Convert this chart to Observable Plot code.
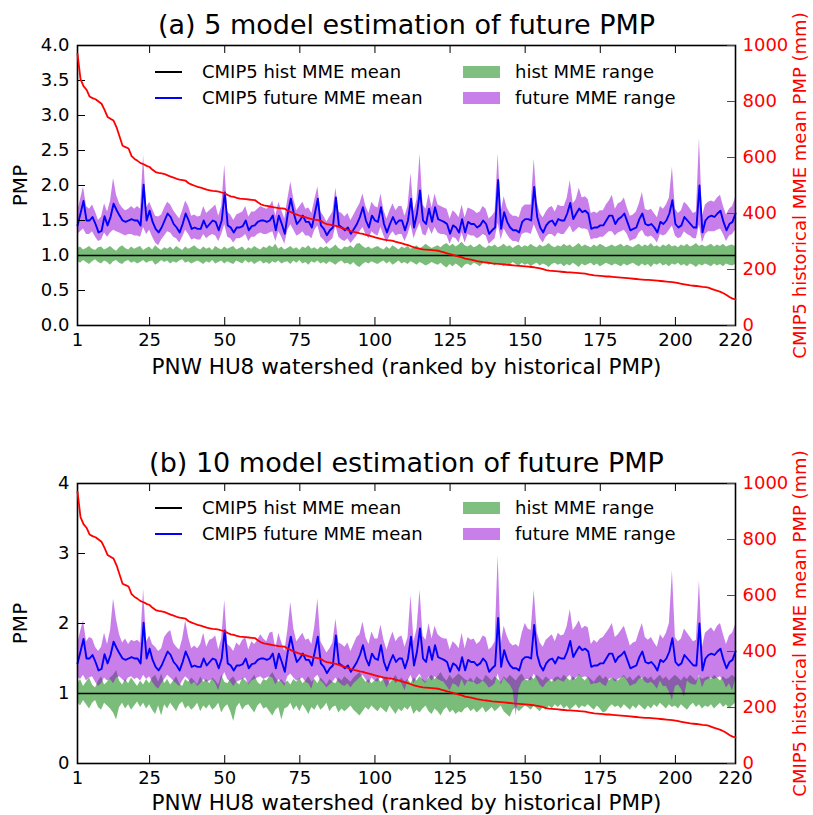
<!DOCTYPE html>
<html><head><meta charset="utf-8">
<script src="https://cdn.jsdelivr.net/npm/d3@7"></script>
<script src="https://cdn.jsdelivr.net/npm/@observablehq/plot@0.6"></script>
<style>
body{margin:0;background:#fff;}
#page{position:relative;width:813px;height:815px;font-family:"DejaVu Sans",sans-serif;overflow:hidden;background:#fff;}
.layer{position:absolute;left:0;}
.lg{position:absolute;font-size:18px;line-height:18px;color:#000;white-space:nowrap;}
.sw{position:absolute;}
</style></head><body><div id="page"></div>
<script>
// ---------- data ----------
const watershed = d3.range(1, 221);
const xTicks = [1, 25, 50, 75, 100, 125, 150, 175, 200, 220];
const pmpTicksA = [0, 0.5, 1, 1.5, 2, 2.5, 3, 3.5, 4];
const pmpTicksB = [0, 1, 2, 3, 4];
const mmTicks = [0, 200, 400, 600, 800, 1000];
const histMean = [1.0];
const titles = ["(a) 5 model estimation of future PMP", "(b) 10 model estimation of future PMP"];
const xLabel = "PNW HU8 watershed (ranked by historical PMP)";
const yLabel = "PMP";
const y2Label = "CMIP5 historical MME mean PMP (mm)";
const legendLabels = ["CMIP5 hist MME mean", "CMIP5 future MME mean", "hist MME range", "future MME range"];

const histPMP = [970,880,855,842,818,812,808,800,792,770,
745,738,732,708,675,642,637,632,605,595,
588,580,576,570,566,556,548,545,543,541,
536,532,528,524,521,519,517,508,503,499,
495,492,489,485,483,481,480,478,475,472,
466,461,459,456,453,452,451,450,449,448,
440,433,429,427,425,423,421,419,418,417,
410,405,400,396,392,389,386,383,380,378,
376,374,366,362,360,358,356,352,348,345,
341,337,334,332,329,327,324,321,318,315,
312,309,307,305,304,302,299,296,293,290,
287,283,279,276,274,272,271,270,269,268,
267,264,261,258,255,252,249,246,243,239,
237,235,233,230,228,226,225,224,222,221,
220,219,218,217,216,215,214,213,212,211,
210,209,208,206,204,201,198,196,195,194,
193,192,191,190,190,189,188,187,186,185,
183,181,179,178,177,176,175,175,174,173,
172,171,170,169,168,167,166,165,164,163,
163,162,161,160,159,158,157,156,155,153,
151,149,147,145,143,142,141,140,138,137,
135,131,127,124,120,115,109,102,96,93];

const futureMean = [1.43,1.60,1.78,1.50,1.50,1.55,1.45,1.33,1.35,1.56,
1.43,1.55,1.74,1.65,1.57,1.50,1.48,1.50,1.52,1.50,
1.50,1.43,2.01,1.50,1.64,1.48,1.38,1.33,1.40,1.50,
1.60,1.55,1.45,1.40,1.33,1.45,1.60,1.50,1.38,1.40,
1.38,1.38,1.50,1.40,1.45,1.50,1.48,1.36,1.50,1.90,
1.43,1.40,1.33,1.40,1.40,1.42,1.50,1.36,1.42,1.43,
1.48,1.50,1.50,1.48,1.50,1.57,1.36,1.57,1.45,1.31,
1.60,1.81,1.60,1.45,1.50,1.57,1.48,1.48,1.40,1.60,
1.81,1.43,1.38,1.29,1.36,1.40,1.83,1.43,1.40,1.36,
1.40,1.31,1.38,1.45,1.55,1.69,1.50,1.40,1.57,1.50,
1.48,1.69,1.45,1.33,1.45,1.55,1.45,1.50,1.50,1.36,
1.50,1.81,1.40,1.60,1.93,1.50,1.45,1.67,1.48,1.69,
1.52,1.50,1.48,1.45,1.31,1.43,1.40,1.33,1.52,1.33,
1.48,1.45,1.45,1.40,1.43,1.50,1.45,1.31,1.36,1.40,
2.08,1.38,1.62,1.48,1.40,1.36,1.36,1.33,1.48,1.52,
1.52,1.50,1.98,1.55,1.40,1.33,1.43,1.48,1.50,1.43,
1.52,1.50,1.50,1.60,1.75,1.52,1.60,1.67,1.62,1.64,
1.60,1.38,1.40,1.40,1.43,1.43,1.50,1.57,1.57,1.45,
1.52,1.55,1.60,1.48,1.36,1.38,1.40,1.52,1.60,1.45,
1.43,1.45,1.40,1.33,1.48,1.45,1.50,1.60,1.79,1.45,
1.40,1.43,1.55,1.50,1.45,1.40,1.40,2.00,1.33,1.50,
1.55,1.57,1.55,1.60,1.64,1.48,1.36,1.45,1.48,1.60];

const futHiA = [1.62,1.80,1.98,1.70,1.66,1.72,1.62,1.50,1.55,1.74,
1.62,1.78,2.10,1.86,1.74,1.68,1.64,1.66,1.70,1.66,
1.70,1.66,2.43,1.68,1.76,1.66,1.56,1.55,1.58,1.68,
1.76,1.72,1.64,1.58,1.52,1.64,1.78,1.70,1.56,1.58,
1.55,1.56,1.70,1.60,1.64,1.68,1.72,1.56,1.70,2.29,
1.62,1.58,1.50,1.58,1.60,1.62,1.70,1.55,1.62,1.62,
1.66,1.70,1.68,1.66,1.70,1.78,1.56,1.76,1.64,1.52,
1.80,2.05,1.80,1.64,1.70,1.76,1.66,1.68,1.60,1.80,
1.98,1.62,1.56,1.48,1.55,1.62,1.96,1.62,1.60,1.55,
1.60,1.50,1.58,1.66,1.74,1.88,1.70,1.60,1.76,1.70,
1.68,1.88,1.64,1.52,1.64,1.74,1.64,1.70,1.70,1.56,
1.70,2.17,1.62,1.80,2.45,1.72,1.66,1.88,1.68,1.88,
1.72,1.70,1.68,1.66,1.52,1.64,1.60,1.54,1.72,1.54,
1.68,1.66,1.64,1.60,1.62,1.70,1.66,1.52,1.56,1.62,
2.45,1.62,1.84,1.68,1.60,1.56,1.56,1.54,1.68,1.72,
1.72,1.72,2.38,1.76,1.60,1.54,1.62,1.68,1.70,1.62,
1.72,1.70,1.70,1.82,2.07,1.74,1.80,1.96,1.82,1.84,
1.80,1.60,1.62,1.60,1.64,1.64,1.72,1.78,1.86,1.66,
1.74,1.76,1.82,1.68,1.56,1.58,1.62,1.74,1.90,1.66,
1.64,1.66,1.60,1.54,1.70,1.66,1.72,1.82,2.26,1.66,
1.60,1.64,1.76,1.72,1.66,1.60,1.62,2.67,1.56,1.72,
1.76,1.78,1.76,1.82,1.86,1.70,1.58,1.66,1.70,1.82];

const futLoA = [1.30,1.34,1.38,1.30,1.30,1.34,1.26,1.20,1.22,1.32,
1.26,1.32,1.36,1.34,1.32,1.30,1.28,1.30,1.30,1.28,
1.28,1.26,1.40,1.30,1.36,1.26,1.18,1.14,1.22,1.28,
1.34,1.32,1.26,1.24,1.18,1.26,1.36,1.30,1.22,1.24,
1.22,1.22,1.30,1.24,1.28,1.30,1.28,1.20,1.30,1.44,
1.26,1.24,1.18,1.24,1.24,1.26,1.30,1.20,1.26,1.26,
1.30,1.32,1.30,1.30,1.32,1.34,1.20,1.34,1.26,1.16,
1.36,1.44,1.36,1.28,1.30,1.34,1.28,1.28,1.24,1.36,
1.42,1.26,1.22,1.16,1.20,1.24,1.42,1.26,1.22,1.20,
1.24,1.17,1.22,1.28,1.34,1.40,1.30,1.24,1.34,1.30,
1.28,1.40,1.28,1.18,1.28,1.34,1.28,1.30,1.30,1.20,
1.30,1.44,1.24,1.36,1.46,1.30,1.28,1.40,1.30,1.40,
1.32,1.30,1.30,1.28,1.16,1.26,1.24,1.18,1.32,1.18,
1.30,1.28,1.28,1.24,1.26,1.30,1.28,1.16,1.20,1.24,
1.46,1.22,1.38,1.30,1.24,1.20,1.20,1.18,1.30,1.32,
1.32,1.30,1.44,1.34,1.24,1.18,1.26,1.30,1.30,1.26,
1.32,1.30,1.30,1.36,1.42,1.32,1.36,1.40,1.38,1.38,
1.36,1.22,1.24,1.24,1.26,1.26,1.30,1.34,1.34,1.28,
1.32,1.34,1.36,1.30,1.20,1.22,1.24,1.32,1.36,1.28,
1.26,1.28,1.24,1.18,1.30,1.28,1.30,1.36,1.42,1.28,
1.24,1.26,1.34,1.30,1.28,1.24,1.24,1.44,1.18,1.30,
1.34,1.34,1.34,1.36,1.38,1.30,1.20,1.28,1.30,1.36];

const histHiA = [1.10,1.12,1.08,1.10,1.13,1.09,1.07,1.11,1.12,1.08,
1.10,1.13,1.09,1.06,1.11,1.14,1.10,1.08,1.12,1.09,
1.11,1.13,1.07,1.10,1.12,1.08,1.14,1.10,1.07,1.11,
1.09,1.12,1.08,1.13,1.10,1.07,1.12,1.09,1.11,1.14,
1.10,1.08,1.12,1.09,1.11,1.07,1.13,1.10,1.08,1.12,
1.09,1.11,1.13,1.08,1.10,1.12,1.07,1.11,1.09,1.13,
1.10,1.08,1.12,1.10,1.14,1.11,1.16,1.09,1.12,1.08,
1.10,1.13,1.09,1.11,1.07,1.12,1.10,1.14,1.09,1.11,
1.08,1.12,1.10,1.13,1.09,1.11,1.15,1.10,1.08,1.12,
1.11,1.14,1.10,1.16,1.17,1.13,1.10,1.12,1.09,1.11,
1.13,1.10,1.08,1.12,1.09,1.14,1.11,1.08,1.12,1.10,
1.13,1.09,1.11,1.14,1.10,1.12,1.16,1.13,1.10,1.12,
1.14,1.11,1.15,1.17,1.13,1.16,1.12,1.15,1.19,1.14,
1.12,1.15,1.11,1.13,1.16,1.12,1.10,1.14,1.12,1.15,
1.11,1.13,1.16,1.12,1.14,1.10,1.13,1.15,1.11,1.14,
1.12,1.16,1.13,1.11,1.15,1.12,1.14,1.17,1.13,1.11,
1.14,1.12,1.16,1.13,1.15,1.11,1.14,1.17,1.12,1.15,
1.13,1.11,1.15,1.12,1.16,1.14,1.11,1.13,1.15,1.12,
1.14,1.16,1.12,1.15,1.13,1.11,1.14,1.16,1.12,1.15,
1.13,1.17,1.12,1.14,1.11,1.15,1.13,1.16,1.12,1.14,
1.11,1.15,1.13,1.16,1.12,1.14,1.17,1.13,1.15,1.12,
1.14,1.16,1.12,1.15,1.13,1.16,1.12,1.14,1.15,1.13];

const histLoA = [0.92,0.89,0.93,0.90,0.87,0.91,0.94,0.90,0.88,0.92,
0.90,0.86,0.91,0.93,0.89,0.87,0.91,0.93,0.89,0.91,
0.88,0.90,0.93,0.89,0.91,0.92,0.86,0.89,0.93,0.90,
0.92,0.88,0.91,0.89,0.92,0.94,0.89,0.91,0.88,0.90,
0.92,0.90,0.87,0.91,0.89,0.93,0.88,0.90,0.92,0.88,
0.91,0.89,0.87,0.92,0.90,0.88,0.93,0.89,0.91,0.87,
0.90,0.92,0.88,0.90,0.87,0.91,0.89,0.92,0.88,0.90,
0.91,0.87,0.92,0.89,0.93,0.88,0.90,0.86,0.91,0.89,
0.92,0.88,0.90,0.87,0.91,0.89,0.86,0.90,0.92,0.88,
0.89,0.86,0.90,0.85,0.83,0.87,0.90,0.88,0.91,0.89,
0.87,0.90,0.92,0.88,0.91,0.86,0.89,0.92,0.88,0.90,
0.87,0.91,0.89,0.86,0.90,0.88,0.85,0.87,0.90,0.88,
0.86,0.89,0.85,0.82,0.87,0.84,0.88,0.85,0.81,0.86,
0.88,0.85,0.89,0.87,0.84,0.88,0.90,0.86,0.88,0.85,
0.89,0.87,0.84,0.88,0.86,0.90,0.87,0.85,0.89,0.86,
0.88,0.84,0.87,0.89,0.85,0.88,0.86,0.83,0.87,0.89,
0.86,0.88,0.84,0.87,0.85,0.89,0.86,0.83,0.88,0.85,
0.87,0.89,0.85,0.88,0.84,0.86,0.89,0.87,0.85,0.88,
0.86,0.84,0.88,0.85,0.87,0.89,0.86,0.84,0.88,0.85,
0.87,0.83,0.88,0.86,0.89,0.85,0.87,0.84,0.88,0.86,
0.89,0.85,0.87,0.84,0.88,0.86,0.83,0.87,0.85,0.88,
0.86,0.84,0.88,0.85,0.87,0.84,0.88,0.86,0.85,0.87];

const futHiB = [1.70,1.88,2.04,1.74,1.80,1.78,1.66,1.60,1.66,1.86,
1.70,1.90,2.35,2.05,1.84,1.72,1.78,1.70,1.76,1.74,
1.76,1.72,2.49,1.74,1.82,1.70,1.66,1.60,1.64,1.80,
1.86,1.90,1.72,1.66,1.62,1.78,2.04,1.80,1.64,1.68,
1.64,1.70,1.86,1.66,1.76,1.78,1.82,1.62,1.78,2.33,
1.70,1.66,1.60,1.72,1.68,1.76,1.80,1.62,1.74,1.70,
1.76,1.84,1.78,1.74,1.86,1.88,1.64,1.86,1.72,1.60,
1.90,2.30,1.92,1.74,1.80,1.86,1.76,1.78,1.70,1.96,
2.35,1.74,1.66,1.58,1.64,1.72,2.06,1.72,1.70,1.66,
1.72,1.60,1.70,1.80,1.84,2.02,1.80,1.70,1.88,1.78,
1.78,1.98,1.76,1.62,1.76,1.88,1.74,1.80,1.82,1.66,
1.80,2.40,1.74,1.92,2.47,1.82,1.76,2.00,1.78,1.96,
1.84,1.80,1.78,1.78,1.62,1.74,1.70,1.64,1.86,1.64,
1.80,1.76,1.78,1.70,1.74,1.82,1.80,1.62,1.66,1.74,
2.97,1.70,1.96,1.82,1.72,1.68,1.70,1.66,1.86,2.00,
1.92,1.90,2.47,1.88,1.72,1.66,1.76,1.80,1.84,1.74,
1.86,1.82,1.84,1.96,2.20,1.90,1.96,2.04,1.92,1.96,
1.94,1.70,1.76,1.72,1.78,1.80,1.86,1.92,2.00,1.80,
1.84,1.90,1.96,1.82,1.68,1.72,1.74,1.88,2.00,1.80,
1.76,1.80,1.72,1.66,1.84,1.78,1.86,2.00,2.75,1.80,
1.74,1.78,1.92,1.86,1.80,1.74,1.76,2.61,1.66,1.86,
1.90,1.94,1.88,1.96,2.00,1.84,1.70,1.82,1.86,1.98];

const futLoB = [1.24,1.20,1.26,1.18,1.22,1.24,1.16,1.10,1.14,1.22,
1.18,1.20,1.14,1.22,1.24,1.20,1.16,1.22,1.24,1.20,
1.22,1.18,1.26,1.20,1.24,1.16,1.10,1.06,1.14,1.20,
1.26,1.22,1.18,1.14,1.10,1.18,1.24,1.20,1.12,1.16,
1.10,1.14,1.20,1.16,1.18,1.20,1.14,1.04,1.20,1.30,
1.20,1.16,1.10,1.16,1.18,1.20,1.22,1.12,1.18,1.20,
1.22,1.24,1.20,1.22,1.24,1.22,1.12,1.20,1.16,1.10,
1.24,1.28,1.22,1.18,1.20,1.22,1.16,1.14,1.06,1.22,
1.26,1.18,1.14,1.08,1.12,1.16,1.22,1.16,1.12,1.10,
1.14,1.08,1.14,1.18,1.22,1.26,1.20,1.14,1.22,1.18,
1.16,1.24,1.18,1.08,1.16,1.22,1.14,1.18,1.14,1.04,
1.18,1.26,1.14,1.22,1.28,1.18,1.14,1.24,1.18,1.24,
1.20,1.18,1.16,1.10,1.04,1.14,1.12,1.08,1.20,1.10,
1.18,1.16,1.16,1.12,1.14,1.18,1.14,1.08,1.10,1.14,
1.28,1.12,1.22,1.16,1.12,1.04,0.68,1.06,1.16,1.20,
1.20,1.18,1.28,1.20,1.12,1.08,1.14,1.18,1.20,1.16,
1.20,1.18,1.16,1.22,1.26,1.18,1.22,1.26,1.22,1.24,
1.22,1.12,1.14,1.14,1.16,1.12,1.10,1.20,1.22,1.16,
1.20,1.22,1.24,1.18,1.10,1.12,1.14,1.20,1.22,1.16,
1.14,1.16,1.12,1.06,1.18,1.10,1.10,1.02,0.90,1.10,
1.12,1.06,0.95,1.18,1.14,1.12,1.12,1.26,1.08,1.18,
1.20,1.22,1.20,1.22,1.24,1.18,1.08,1.14,1.04,1.20];

const histHiB = [1.14,1.20,1.10,1.16,1.22,1.12,1.08,1.18,1.24,1.12,
1.16,1.22,1.26,1.33,1.18,1.12,1.20,1.14,1.22,1.16,
1.10,1.18,1.12,1.20,1.14,1.22,1.26,1.16,1.28,1.14,
1.20,1.12,1.18,1.24,1.14,1.10,1.20,1.16,1.22,1.18,
1.12,1.24,1.16,1.20,1.14,1.22,1.18,1.12,1.26,1.16,
1.14,1.20,1.24,1.16,1.12,1.22,1.18,1.14,1.20,1.26,
1.16,1.12,1.20,1.18,1.24,1.30,1.22,1.16,1.20,1.14,
1.18,1.12,1.20,1.16,1.22,1.14,1.18,1.24,1.16,1.20,
1.14,1.22,1.18,1.12,1.20,1.16,1.14,1.22,1.18,1.24,
1.20,1.16,1.22,1.26,1.30,1.22,1.16,1.20,1.14,1.18,
1.22,1.16,1.20,1.24,1.14,1.20,1.26,1.18,1.22,1.16,
1.20,1.14,1.22,1.18,1.24,1.20,1.16,1.22,1.26,1.20,
1.24,1.30,1.22,1.18,1.26,1.20,1.24,1.28,1.24,1.20,
1.18,1.22,1.16,1.24,1.20,1.18,1.26,1.22,1.18,1.24,
1.20,1.16,1.24,1.20,1.26,1.22,1.18,1.24,1.28,1.20,
1.18,1.24,1.20,1.26,1.22,1.18,1.24,1.20,1.16,1.22,
1.24,1.20,1.26,1.22,1.18,1.24,1.20,1.28,1.22,1.18,
1.24,1.20,1.16,1.22,1.26,1.20,1.24,1.18,1.22,1.20,
1.18,1.22,1.26,1.20,1.24,1.18,1.22,1.26,1.20,1.24,
1.20,1.24,1.18,1.22,1.26,1.20,1.24,1.18,1.22,1.26,
1.22,1.18,1.24,1.20,1.26,1.22,1.18,1.24,1.20,1.22,
1.24,1.20,1.26,1.22,1.18,1.24,1.20,1.22,1.26,1.22];

const histLoB = [0.88,0.82,0.90,0.84,0.78,0.86,0.90,0.80,0.76,0.86,
0.82,0.78,0.72,0.62,0.80,0.86,0.78,0.84,0.76,0.82,
0.88,0.80,0.86,0.78,0.84,0.76,0.70,0.82,0.68,0.84,
0.78,0.86,0.80,0.74,0.84,0.88,0.78,0.82,0.76,0.80,
0.86,0.74,0.82,0.78,0.84,0.76,0.80,0.86,0.72,0.80,
0.84,0.74,0.60,0.80,0.86,0.76,0.82,0.84,0.78,0.72,
0.82,0.86,0.78,0.80,0.74,0.68,0.76,0.80,0.62,0.78,
0.80,0.86,0.76,0.82,0.74,0.84,0.78,0.70,0.80,0.76,
0.84,0.76,0.80,0.86,0.74,0.80,0.82,0.72,0.78,0.74,
0.78,0.82,0.76,0.72,0.68,0.74,0.80,0.76,0.82,0.78,
0.74,0.80,0.76,0.72,0.82,0.76,0.70,0.78,0.74,0.80,
0.76,0.82,0.70,0.76,0.72,0.78,0.82,0.74,0.70,0.78,
0.74,0.68,0.76,0.80,0.72,0.76,0.70,0.74,0.72,0.78,
0.80,0.74,0.78,0.72,0.76,0.80,0.72,0.76,0.80,0.74,
0.78,0.82,0.74,0.70,0.66,0.76,0.80,0.74,0.78,0.82,
0.80,0.76,0.82,0.78,0.74,0.80,0.76,0.82,0.78,0.84,
0.80,0.84,0.78,0.82,0.76,0.80,0.84,0.78,0.82,0.80,
0.84,0.80,0.76,0.82,0.78,0.72,0.74,0.80,0.84,0.80,
0.82,0.78,0.84,0.80,0.76,0.82,0.78,0.84,0.80,0.76,
0.82,0.78,0.84,0.80,0.86,0.82,0.78,0.84,0.80,0.82,
0.78,0.84,0.80,0.76,0.82,0.86,0.80,0.84,0.78,0.82,
0.80,0.84,0.78,0.82,0.86,0.80,0.84,0.78,0.82,0.86];

// ---------- drawing ----------
const page = document.getElementById("page");
const W = 813, ML = 77, MR = 78, MT = 45, PH = 280, PW = W - ML - MR;
const GREEN = "#008000", PURPLE = "#9400d3";
const FONT = "DejaVu Sans, sans-serif";

function panel({top, height, title, fHi, fLo, hHi, hLo, yTicks, yFmt, xLabDy, legTop}) {
  const mb = height - MT - PH;
  const data = watershed.map((w, i) => ({w, mean: futureMean[i], fHi: fHi[i], fLo: fLo[i], hHi: hHi[i], hLo: hLo[i], pmp: histPMP[i]}));
  const common = {width: W, height, marginTop: MT, marginBottom: mb, marginLeft: ML, marginRight: MR,
    style: {fontFamily: FONT, fontSize: "18px", background: "transparent", overflow: "visible"}};
  const main = Plot.plot({...common,
    x: {domain: [1, 220]},
    y: {domain: [0, 4]},
    marks: [
      Plot.areaY(data, {x: "w", y1: "hLo", y2: "hHi", fill: GREEN, fillOpacity: 0.52}),
      Plot.areaY(data, {x: "w", y1: "fLo", y2: "fHi", fill: PURPLE, fillOpacity: 0.5}),
      Plot.ruleY(histMean, {stroke: "black", strokeWidth: 1.6}),
      Plot.lineY(data, {x: "w", y: "mean", stroke: "#0000ff", strokeWidth: 1.9}),
      Plot.tickX(xTicks, {x: d => d, insetTop: PH - 8, stroke: "black", strokeWidth: 1}),
      Plot.tickX(xTicks, {x: d => d, insetBottom: PH - 8, stroke: "black", strokeWidth: 1}),
      Plot.tickY(yTicks, {y: d => d, insetRight: PW - 8, stroke: "black", strokeWidth: 1}),
      Plot.axisX({ticks: xTicks, tickSize: 0, tickPadding: 8, tickFormat: d => String(d), label: null, fontSize: 18}),
      Plot.axisY({ticks: yTicks, tickSize: 0, tickPadding: 8, tickFormat: yFmt, label: null, fontSize: 18}),
      Plot.text([xLabel], {text: d => d, frameAnchor: "bottom", dy: xLabDy, textAnchor: "middle", lineAnchor: "middle", fontSize: 21.5}),
      Plot.text([yLabel], {text: d => d, frameAnchor: "left", dx: -57, rotate: -90, textAnchor: "middle", lineAnchor: "middle", fontSize: 20}),
      Plot.text([title], {text: d => d, frameAnchor: "top", dy: -20, textAnchor: "middle", lineAnchor: "middle", fontSize: 27}),
      Plot.frame({stroke: "black", strokeWidth: 1.6})
    ]
  });
  const red = Plot.plot({...common,
    x: {domain: [1, 220], axis: null},
    y: {domain: [0, 1000], axis: null},
    marks: [
      Plot.lineY(data, {x: "w", y: "pmp", stroke: "#ff0000", strokeWidth: 1.8}),
      Plot.tickY(mmTicks, {y: d => d, insetLeft: PW - 8, stroke: "#ff0000", strokeWidth: 1}),
      Plot.axisY({anchor: "right", ticks: mmTicks, tickSize: 0, tickPadding: 7, tickFormat: d => String(d), color: "#ff0000", label: null, fontSize: 18}),
      Plot.text([y2Label], {text: d => d, frameAnchor: "right", dx: 65, rotate: -90, textAnchor: "middle", lineAnchor: "middle", fill: "#ff0000", fontSize: 18})
    ]
  });
  for (const svg of [main, red]) {
    const wrap = document.createElement("div");
    wrap.className = "layer";
    wrap.style.top = top + "px";
    wrap.appendChild(svg);
    page.appendChild(wrap);
  }
  // legend
  const rows = [legTop, legTop + 26];
  const items = [
    {label: legendLabels[0], kind: "line", color: "#000", x: 155, r: 0},
    {label: legendLabels[1], kind: "line", color: "#0000ff", x: 155, r: 1},
    {label: legendLabels[2], kind: "patch", color: GREEN, x: 463, r: 0},
    {label: legendLabels[3], kind: "patch", color: PURPLE, x: 463, r: 1}
  ];
  for (const it of items) {
    const cy = rows[it.r];
    const sw = document.createElement("div");
    sw.className = "sw";
    if (it.kind === "line") {
      Object.assign(sw.style, {left: it.x + "px", top: (cy - 1) + "px", width: "27px", height: "2px", background: it.color});
    } else {
      Object.assign(sw.style, {left: it.x + "px", top: (cy - 6) + "px", width: "37px", height: "12px", background: it.color, opacity: 0.5});
    }
    page.appendChild(sw);
    const t = document.createElement("div");
    t.className = "lg";
    t.textContent = it.label;
    t.style.left = (it.kind === "line" ? 202 : 515) + "px";
    t.style.top = (cy - 9) + "px";
    page.appendChild(t);
  }
}

panel({top: 0, height: 400, title: titles[0], fHi: futHiA, fLo: futLoA, hHi: histHiA, hLo: histLoA,
  yTicks: pmpTicksA, yFmt: d3.format(".1f"), xLabDy: 42, legTop: 72});
panel({top: 438, height: 377, title: titles[1], fHi: futHiB, fLo: futLoB, hHi: histHiB, hLo: histLoB,
  yTicks: pmpTicksB, yFmt: d3.format("d"), xLabDy: 40, legTop: 508});
</script>
</body></html>
